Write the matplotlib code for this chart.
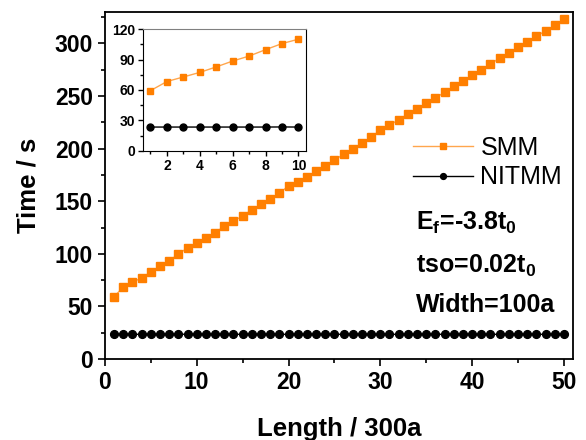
import matplotlib
matplotlib.use("Agg")
import matplotlib.pyplot as plt
from matplotlib.ticker import MultipleLocator

plt.rcParams['font.family'] = ['Liberation Sans', 'DejaVu Sans']
plt.rcParams['mathtext.fontset'] = 'custom'
plt.rcParams['mathtext.rm'] = 'Liberation Sans:bold'
plt.rcParams['mathtext.bf'] = 'Liberation Sans:bold'

# --- Daten ---
length = list(range(1, 51))
smm = [59.3, 68.3, 72.8, 77.3, 82.7, 88.5, 93.4, 99.7, 105.7, 110.0,
       114.6, 120.0, 126.3, 131.0, 136.1, 141.8, 147.2, 152.0, 157.6, 164.6,
       168.1, 173.1, 178.5, 183.6, 189.0, 194.7, 199.7, 205.4, 211.1, 217.5,
       222.5, 227.3, 233.0, 237.7, 243.4, 248.1, 253.6, 259.3, 264.3, 269.7,
       275.1, 280.4, 286.1, 290.9, 296.3, 301.3, 307.0, 311.8, 317.2, 322.9]
nitmm = [23.5, 23.5, 23.5, 23.5, 23.5, 23.5, 23.5, 23.5, 23.6, 23.5,
         23.5, 23.5, 23.5, 23.5, 23.5, 23.5, 23.5, 23.5, 23.5, 23.5,
         23.5, 23.5, 23.5, 23.5, 23.5, 23.5, 23.5, 23.5, 23.5, 23.5,
         23.5, 23.5, 23.5, 23.5, 23.5, 23.5, 23.5, 23.5, 23.5, 23.5,
         23.5, 23.5, 23.5, 23.5, 23.5, 23.5, 23.5, 23.5, 23.5, 23.5]
n_inset = 10

orange = '#ff7f00'
line_orange = '#ffa64d'

fig = plt.figure(figsize=(5.86, 4.4), dpi=100)
ax = fig.add_axes([0.179, 0.184, 0.799, 0.789])

ax.plot(length, smm, color=line_orange, lw=1.0, marker='s', ms=5.8,
        mfc=orange, mec=orange, label='SMM')
ax.plot(length, nitmm, color='black', lw=1.0, marker='o', ms=5.6,
        mfc='black', mec='black', label='NITMM')

ax.set_xlim(0, 51)
ax.set_ylim(0, 330)
ax.xaxis.set_major_locator(MultipleLocator(10))
ax.xaxis.set_minor_locator(MultipleLocator(5))
ax.yaxis.set_major_locator(MultipleLocator(50))
ax.yaxis.set_minor_locator(MultipleLocator(25))
ax.tick_params(which='both', direction='out', top=False, right=False, width=1.2)
ax.tick_params(which='major', length=5, labelsize=16.5)
ax.tick_params(which='minor', length=3)
for lab in ax.get_xticklabels() + ax.get_yticklabels():
    lab.set_fontweight('bold')
for sp in ax.spines.values():
    sp.set_linewidth(1.3)

ax.set_xlabel('Length / 300a', fontsize=18.5, fontweight='bold', labelpad=17)
ax.set_ylabel('Time / s', fontsize=18.5, fontweight='bold', labelpad=10)

leg = ax.legend(loc='center left', bbox_to_anchor=(0.658, 0.566), frameon=False,
                fontsize=18, handlelength=2.4, handletextpad=0.3,
                labelspacing=0.22, markerscale=0.75, borderpad=0,
                borderaxespad=0)

ax.text(0.665, 0.372, r'E$_\mathrm{f}$=-3.8t$_\mathrm{0}$', transform=ax.transAxes,
        fontsize=18, fontweight='bold', va='baseline')
ax.text(0.665, 0.248, r'tso=0.02t$_\mathrm{0}$', transform=ax.transAxes,
        fontsize=18, fontweight='bold', va='baseline')
ax.text(0.665, 0.136, 'Width=100a', transform=ax.transAxes,
        fontsize=18, fontweight='bold', va='baseline')

# --- Inset ---
ins = fig.add_axes([0.244, 0.657, 0.278, 0.277])
ins.plot(length[:n_inset], smm[:n_inset], color=line_orange, lw=1.0, marker='s',
         ms=4.6, mfc=orange, mec=orange)
ins.plot(length[:n_inset], nitmm[:n_inset], color='black', lw=1.0, marker='o',
         ms=5, mfc='black', mec='black')
ins.set_xlim(0.55, 10.45)
ins.set_ylim(0, 120)
ins.xaxis.set_major_locator(MultipleLocator(2))
ins.xaxis.set_minor_locator(MultipleLocator(1))
ins.yaxis.set_major_locator(MultipleLocator(30))
ins.yaxis.set_minor_locator(MultipleLocator(15))
ins.tick_params(which='both', direction='out', top=False, right=False, width=1)
ins.tick_params(which='major', length=3.5, pad=2, labelsize=10)
ins.tick_params(which='minor', length=2)
for lab in ins.get_xticklabels() + ins.get_yticklabels():
    lab.set_fontweight('bold')
ins.spines['top'].set_color('#808080')

fig.savefig('out.png', dpi=100)
